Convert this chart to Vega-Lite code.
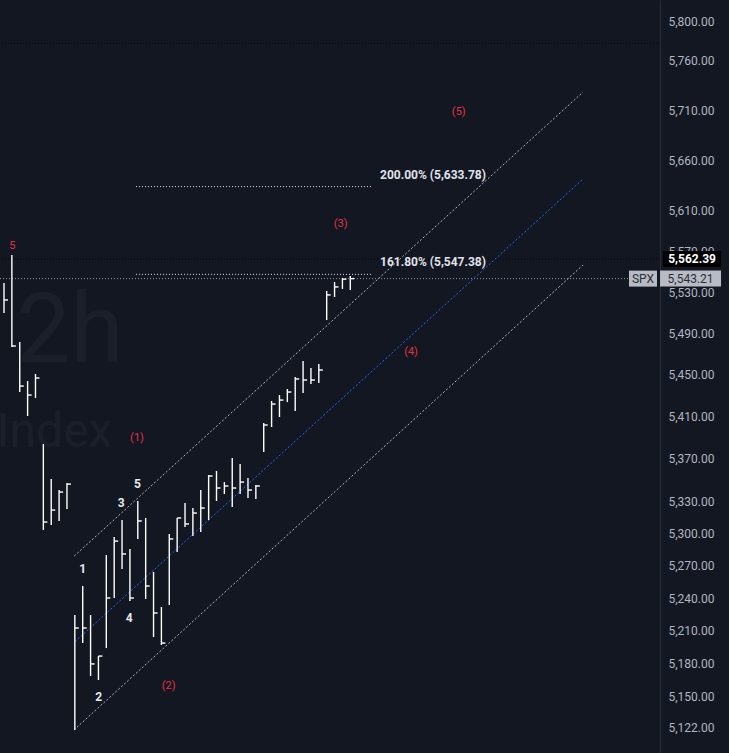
{
  "$schema": "https://vega.github.io/schema/vega-lite/v6.json",
  "width": 660,
  "height": 753,
  "autosize": {"type": "none"},
  "padding": {"left": 0, "top": 0, "right": 69, "bottom": 0},
  "background": "#131722",
  "config": {
    "view": {"stroke": null},
    "font": "Roboto",
    "axis": {"labelFont": "Roboto", "labelFontSize": 12, "labelColor": "#b2b5be", "domainColor": "#2a2e39", "ticks": false, "grid": false}
  },
  "datasets": {
    "bars": [
      {"k": 0, "h": 5539.0, "l": 5509.7, "c": 5522.4},
      {"k": 1, "h": 5566.3, "l": 5476.8, "c": 5477.8},
      {"k": 2, "h": 5481.7, "l": 5433.6, "c": 5439.3},
      {"k": 3, "h": 5444.1, "l": 5410.7, "c": 5430.7},
      {"k": 4, "h": 5450.9, "l": 5427.8, "c": 5447.0},
      {"k": 5, "h": 5384.1, "l": 5303.2, "c": 5310.6},
      {"k": 6, "h": 5350.9, "l": 5307.8, "c": 5321.8},
      {"k": 7, "h": 5340.6, "l": 5311.6, "c": 5338.7},
      {"k": 8, "h": 5347.2, "l": 5322.8, "c": 5346.2},
      {"k": 9, "h": 5224.3, "l": 5119.6, "c": 5212.4},
      {"k": 10, "h": 5251.1, "l": 5198.6, "c": 5212.4},
      {"k": 11, "h": 5224.3, "l": 5168.5, "c": 5179.5},
      {"k": 12, "h": 5186.7, "l": 5164.9, "c": 5186.7},
      {"k": 13, "h": 5279.8, "l": 5194.0, "c": 5240.0},
      {"k": 14, "h": 5296.6, "l": 5240.0, "c": 5292.8},
      {"k": 15, "h": 5312.5, "l": 5266.8, "c": 5280.8},
      {"k": 16, "h": 5285.4, "l": 5237.2, "c": 5240.0},
      {"k": 17, "h": 5330.3, "l": 5294.8, "c": 5311.6},
      {"k": 18, "h": 5314.4, "l": 5239.1, "c": 5251.1},
      {"k": 19, "h": 5264.1, "l": 5204.1, "c": 5226.2},
      {"k": 20, "h": 5231.7, "l": 5196.8, "c": 5198.6},
      {"k": 21, "h": 5299.4, "l": 5233.5, "c": 5294.8},
      {"k": 22, "h": 5314.4, "l": 5282.6, "c": 5314.4},
      {"k": 23, "h": 5328.4, "l": 5306.0, "c": 5308.8},
      {"k": 24, "h": 5323.7, "l": 5297.6, "c": 5319.0},
      {"k": 25, "h": 5340.6, "l": 5301.3, "c": 5323.7},
      {"k": 26, "h": 5354.7, "l": 5312.5, "c": 5353.8},
      {"k": 27, "h": 5358.6, "l": 5330.3, "c": 5342.5},
      {"k": 28, "h": 5348.1, "l": 5336.9, "c": 5344.4},
      {"k": 29, "h": 5370.9, "l": 5324.6, "c": 5342.5},
      {"k": 30, "h": 5365.2, "l": 5336.9, "c": 5348.1},
      {"k": 31, "h": 5351.9, "l": 5333.1, "c": 5340.6},
      {"k": 32, "h": 5345.3, "l": 5332.2, "c": 5344.4},
      {"k": 33, "h": 5404.0, "l": 5376.5, "c": 5402.1},
      {"k": 34, "h": 5425.0, "l": 5400.2, "c": 5422.1},
      {"k": 35, "h": 5430.7, "l": 5409.7, "c": 5425.9},
      {"k": 36, "h": 5436.5, "l": 5424.0, "c": 5433.6},
      {"k": 37, "h": 5448.0, "l": 5415.4, "c": 5446.1},
      {"k": 38, "h": 5463.3, "l": 5432.6, "c": 5445.1},
      {"k": 39, "h": 5456.6, "l": 5441.3, "c": 5445.1},
      {"k": 40, "h": 5460.5, "l": 5442.2, "c": 5454.7},
      {"k": 41, "h": 5531.2, "l": 5502.9, "c": 5527.3},
      {"k": 42, "h": 5540.0, "l": 5525.3, "c": 5535.1},
      {"k": 43, "h": 5543.7, "l": 5533.1, "c": 5542.7},
      {"k": 44, "h": 5545.7, "l": 5532.1, "c": 5543.21}
    ],
    "channel": [
      {"n": "upper", "k": 8.93, "p": 5278.9},
      {"n": "upper", "k": 73.57, "p": 5728.4},
      {"n": "lower", "k": 8.89, "p": 5119.6},
      {"n": "lower", "k": 73.57, "p": 5556.5}
    ],
    "mid": [
      {"n": "middle", "k": 9.02, "p": 5199.8},
      {"n": "middle", "k": 73.57, "p": 5641.3}
    ],
    "fib": [
      {"k": 16.77, "k2": 46.76, "p": 5633.78},
      {"k": 16.77, "k2": 46.76, "p": 5547.38}
    ],
    "fibtext": [
      {"k": 47.78, "p": 5645.3, "t": "200.00% (5,633.78)"},
      {"k": 47.78, "p": 5559.4, "t": "161.80% (5,547.38)"}
    ],
    "white": [
      {"k": 10.0, "p": 5266.8, "t": "1"},
      {"k": 12.03, "p": 5149.5, "t": "2"},
      {"k": 14.9, "p": 5328.7, "t": "3"},
      {"k": 15.92, "p": 5221.3, "t": "4"},
      {"k": 16.94, "p": 5346.5, "t": "5"}
    ],
    "red": [
      {"k": 1.05, "p": 5575.4, "t": "5"},
      {"k": 16.9, "p": 5389.8, "t": "(1)"},
      {"k": 20.93, "p": 5159.7, "t": "(2)"},
      {"k": 42.78, "p": 5596.4, "t": "(3)"},
      {"k": 51.72, "p": 5472.0, "t": "(4)"},
      {"k": 57.78, "p": 5708.3, "t": "(5)"}
    ],
    "darklines": [{"p": 5777.8}, {"p": 5562.39}],
    "lastline": [{"k": -0.508, "k2": 79.4, "p": 5543.21}],
    "wm2h": [{"k": 1.6, "p": 5462.4, "t": "2h"}],
    "wmindex": [{"k": -0.95, "p": 5381.4, "t": "Index"}],
    "hibox": [{"k": 87.42, "p": 5562.39, "t": "5,562.39"}],
    "lastbox": [{"k": 87.23, "p": 5543.21, "t": "5,543.21"}],
    "spxbox": [{"k": 81.19, "p": 5543.21, "t": "SPX"}],
    "cutlabel": [{"k": 84.37, "p": 5092.6, "t": "5,094.00"}]
  },
  "layer": [
    {
      "data": {"name": "wm2h"},
      "mark": {"type": "text", "fontSize": 96, "align": "left", "baseline": "alphabetic", "color": "#ffffff", "opacity": 0.03, "font": "Roboto"},
      "encoding": {
        "x": {"field": "k", "type": "quantitative", "scale": {"domain": [-0.508, 83.35], "nice": false, "zero": false}, "axis": null},
        "y": {"field": "p", "type": "quantitative", "scale": {"type": "log", "domain": [5098.9, 5822.0], "nice": false, "zero": false},
          "axis": {"orient": "right", "title": null, "values": [5122, 5150, 5180, 5210, 5240, 5270, 5300, 5330, 5370, 5410, 5450, 5490, 5530, 5570, 5610, 5660, 5710, 5760, 5800], "format": ",.2f", "labelPadding": 8, "labelAlign": "left", "labelBaseline": "middle", "labelOverlap": false}},
        "text": {"field": "t"}
      }
    },
    {
      "data": {"name": "wmindex"},
      "mark": {"type": "text", "fontSize": 48, "align": "left", "baseline": "alphabetic", "color": "#ffffff", "opacity": 0.03, "font": "Roboto"},
      "encoding": {"x": {"field": "k", "type": "quantitative"}, "y": {"field": "p", "type": "quantitative"}, "text": {"field": "t"}}
    },
    {
      "data": {"name": "darklines"},
      "mark": {"type": "rule", "color": "#05070b", "strokeWidth": 1, "strokeDash": [1, 2]},
      "encoding": {"y": {"field": "p", "type": "quantitative"}}
    },
    {
      "data": {"name": "lastline"},
      "mark": {"type": "rule", "color": "#9598a1", "strokeWidth": 1, "strokeDash": [1, 2]},
      "encoding": {"x": {"field": "k", "type": "quantitative"}, "x2": {"field": "k2"}, "y": {"field": "p", "type": "quantitative"}}
    },
    {
      "data": {"name": "fib"},
      "mark": {"type": "rule", "color": "#e0e3eb", "strokeWidth": 1, "strokeDash": [1, 2]},
      "encoding": {"x": {"field": "k", "type": "quantitative"}, "x2": {"field": "k2"}, "y": {"field": "p", "type": "quantitative"}}
    },
    {
      "data": {"name": "channel"},
      "mark": {"type": "line", "color": "#b2b5be", "strokeWidth": 1, "strokeDash": [2, 2]},
      "encoding": {"x": {"field": "k", "type": "quantitative"}, "y": {"field": "p", "type": "quantitative"}, "detail": {"field": "n"}}
    },
    {
      "data": {"name": "mid"},
      "mark": {"type": "line", "color": "#2962ff", "strokeWidth": 1, "strokeDash": [2, 2]},
      "encoding": {"x": {"field": "k", "type": "quantitative"}, "y": {"field": "p", "type": "quantitative"}}
    },
    {
      "data": {"name": "bars"},
      "mark": {"type": "rule", "color": "#ffffff", "strokeWidth": 1.4},
      "encoding": {"x": {"field": "k", "type": "quantitative"}, "y": {"field": "h", "type": "quantitative"}, "y2": {"field": "l"}}
    },
    {
      "data": {"name": "bars"},
      "mark": {"type": "rule", "color": "#ffffff", "strokeWidth": 1.4, "x2Offset": 4},
      "encoding": {"x": {"field": "k", "type": "quantitative"}, "x2": {"field": "k"}, "y": {"field": "c", "type": "quantitative"}, "y2": {"field": "c"}}
    },
    {
      "data": {"name": "white"},
      "mark": {"type": "text", "fontSize": 12, "fontWeight": "bold", "color": "#e8e8ec", "align": "center", "baseline": "middle"},
      "encoding": {"x": {"field": "k", "type": "quantitative"}, "y": {"field": "p", "type": "quantitative"}, "text": {"field": "t"}}
    },
    {
      "data": {"name": "red"},
      "mark": {"type": "text", "fontSize": 11, "color": "#e03341", "align": "center", "baseline": "middle"},
      "encoding": {"x": {"field": "k", "type": "quantitative"}, "y": {"field": "p", "type": "quantitative"}, "text": {"field": "t"}}
    },
    {
      "data": {"name": "fibtext"},
      "mark": {"type": "text", "fontSize": 12, "fontWeight": "bold", "color": "#e0e3eb", "align": "left", "baseline": "middle"},
      "encoding": {"x": {"field": "k", "type": "quantitative"}, "y": {"field": "p", "type": "quantitative"}, "text": {"field": "t"}}
    },
    {
      "data": {"name": "hibox"},
      "mark": {"type": "tick", "orient": "horizontal", "size": 58, "thickness": 16, "color": "#000000", "opacity": 1},
      "encoding": {"x": {"field": "k", "type": "quantitative"}, "y": {"field": "p", "type": "quantitative"}}
    },
    {
      "data": {"name": "hibox"},
      "mark": {"type": "text", "fontSize": 12, "fontWeight": "bold", "color": "#ffffff", "align": "center", "baseline": "middle"},
      "encoding": {"x": {"field": "k", "type": "quantitative"}, "y": {"field": "p", "type": "quantitative"}, "text": {"field": "t"}}
    },
    {
      "data": {"name": "lastbox"},
      "mark": {"type": "tick", "orient": "horizontal", "size": 61, "thickness": 16, "color": "#b8bbc3", "opacity": 1},
      "encoding": {"x": {"field": "k", "type": "quantitative"}, "y": {"field": "p", "type": "quantitative"}}
    },
    {
      "data": {"name": "lastbox"},
      "mark": {"type": "text", "fontSize": 12, "color": "#2a2e39", "align": "center", "baseline": "middle"},
      "encoding": {"x": {"field": "k", "type": "quantitative"}, "y": {"field": "p", "type": "quantitative"}, "text": {"field": "t"}}
    },
    {
      "data": {"name": "spxbox"},
      "mark": {"type": "tick", "orient": "horizontal", "size": 28, "thickness": 16, "color": "#b8bbc3", "opacity": 1},
      "encoding": {"x": {"field": "k", "type": "quantitative"}, "y": {"field": "p", "type": "quantitative"}}
    },
    {
      "data": {"name": "spxbox"},
      "mark": {"type": "text", "fontSize": 12, "color": "#2a2e39", "align": "center", "baseline": "middle"},
      "encoding": {"x": {"field": "k", "type": "quantitative"}, "y": {"field": "p", "type": "quantitative"}, "text": {"field": "t"}}
    },
    {
      "data": {"name": "cutlabel"},
      "mark": {"type": "text", "fontSize": 12, "color": "#b2b5be", "align": "left", "baseline": "middle"},
      "encoding": {"x": {"field": "k", "type": "quantitative"}, "y": {"field": "p", "type": "quantitative"}, "text": {"field": "t"}}
    }
  ]
}
